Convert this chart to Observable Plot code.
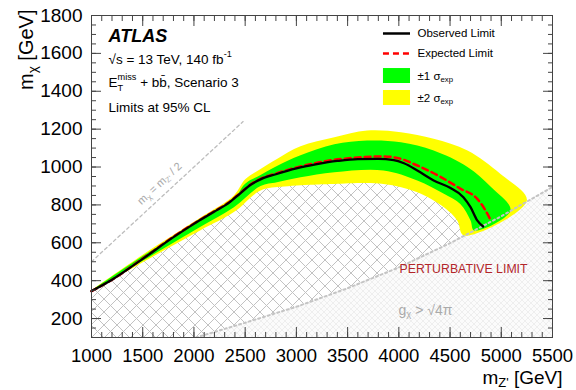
<!DOCTYPE html>
<html><head><meta charset="utf-8">
<script src="https://cdn.jsdelivr.net/npm/d3@7"></script>
<script src="https://cdn.jsdelivr.net/npm/@observablehq/plot@0.6"></script>
<style>body{margin:0;background:#fff;} svg{display:block}</style>
</head><body><div id="chart"></div>
<script>
// ---- axes ----
const xDomain = [1000, 5500];
const yDomain = [100, 1800];
const xMajor = [1000, 1500, 2000, 2500, 3000, 3500, 4000, 4500, 5000, 5500];
const yMajor = [200, 400, 600, 800, 1000, 1200, 1400, 1600, 1800];
const xMinor = d3.range(1000, 5501, 100);
const yMinor = d3.range(100, 1801, 50);

// ---- observed limit ----
const obsX = [1000,1200,1500,1800,2000,2200,2350,2450,2550,2650,2800,3000,3200,3400,3600,3800,3950,4050,4180,4340,4500,4630,4700,4765,4823];
const obsY = [345,405,515,630,700,765,815,860,905,935,962,993,1015,1032,1042,1043,1037,1020,982,929,890,841,788,718,686];

// ---- expected limit ----
const expX = [1000,1200,1500,1800,2000,2200,2350,2450,2550,2650,2800,3040,3370,3600,3850,4020,4180,4410,4600,4765,4846,4895];
const expY = [345,405,517,632,702,767,817,862,907,938,966,1003,1038,1050,1056,1043,1008,947,886,832,771,721];

// ---- +-1 sigma band ----
const s1UpX = [1000,1500,2060,2390,2500,2650,2810,3040,3370,3690,4020,4340,4670,4900,5090];
const s1UpY = [348,530,718,832,912,958,1005,1062,1120,1140,1131,1087,1000,894,771];
const s1LoX = [4735,4700,4600,4440,4180,3850,3370,3040,2810,2650,2390,2060,1500,1000];
const s1LoY = [665,718,805,859,929,982,973,946,920,900,788,683,505,342];

// ---- +-2 sigma band ----
const s2UpX = [1000,1500,2060,2390,2500,2650,2810,3040,3370,3690,4020,4340,4670,4990,5250];
const s2UpY = [350,537,732,850,935,990,1043,1110,1157,1193,1184,1149,1087,964,823];
const s2LoX = [4634,4570,4440,4180,3850,3370,3200,2880,2650,2390,2060,1500,1000];
const s2LoY = [639,718,788,867,911,911,908,897,876,762,665,497,340];

// ---- perturbative limit boundary ----
const pertX = [2020,2500,3000,3500,4000,4500,5000,5500];
const pertY = [100,178,262,360,470,598,740,895];

// ---- m_chi = m_Z'/2 reference ----
const refX = [1000, 2480];
const refY = [500, 1240];

// ---- legend ----
const legendLabels = ["Observed Limit", "Expected Limit", "±1 σ_{exp}", "±2 σ_{exp}"];
const legendY = [1705, 1600, 1480, 1364];
const legendX = [3850, 4114, 4182];
const legendBoxY = [[1441, 1520], [1325, 1404]];

// ---- annotations ----
const infoLines = ["√s = 13 TeV, 140 fb^{-1}", "E^{miss}_{T} + bb\u0304, Scenario 3", "Limits at 95% CL"];
const infoDy = [48, 71, 96];

const zip = (xs, ys) => xs.map((x, i) => ({x, y: ys[i]}));
const band = (ux, uy, lx, ly) => zip(ux, uy).concat(zip(lx, ly));
const FONT = "'Liberation Sans', Arial, Helvetica, sans-serif";
const AX = "#444";

const noText = () => "";
const plot = Plot.plot({
  width: 576, height: 390,
  marginLeft: 91, marginRight: 24, marginTop: 15, marginBottom: 53,
  x: {domain: xDomain, axis: null},
  y: {domain: yDomain, axis: null},
  style: {fontFamily: FONT, background: "#fff", color: "#000"},
  marks: [
    Plot.areaY(zip(obsX, obsY), {x: "x", y: "y", fill: "url(#hatchCoarse)", curve: "monotone-x", clip: true}),
    Plot.areaY(zip(pertX, pertY), {x: "x", y: "y", fill: "url(#hatchFine)", clip: true}),
    Plot.line(band(s2UpX, s2UpY, s2LoX, s2LoY), {x: "x", y: "y", fill: "#ffff00", stroke: "none", curve: "catmull-rom"}),
    Plot.line(band(s1UpX, s1UpY, s1LoX, s1LoY), {x: "x", y: "y", fill: "#00ff00", stroke: "none", curve: "catmull-rom"}),
    Plot.line(zip(pertX, pertY), {x: "x", y: "y", stroke: "#c4c4c4", strokeWidth: 2, strokeDasharray: "2,3", clip: true}),
    Plot.line(zip(refX, refY), {x: "x", y: "y", stroke: "#bdbdbd", strokeWidth: 1.3, strokeDasharray: "3,3"}),
    Plot.line(zip(expX, expY), {x: "x", y: "y", stroke: "#ff0000", strokeWidth: 2.5, strokeDasharray: "6,4", curve: "monotone-x"}),
    Plot.line(zip(obsX, obsY), {x: "x", y: "y", stroke: "#000", strokeWidth: 2.3, curve: "monotone-x"}),

    // annotations in plot
    Plot.text(["m_{χ} = m_{Z'} / 2"], {x: [1664], y: [913], rotate: -43, fill: "#aaa", fontSize: 11}),
    Plot.text(["PERTURBATIVE LIMIT"], {x: [4007], y: [438], textAnchor: "start", lineAnchor: "bottom", fill: "#b3262a", fontSize: 12.3}),
    Plot.text(["g_{χ} > √4π"], {x: [3997], y: [221], textAnchor: "start", lineAnchor: "bottom", fill: "#aaa", fontSize: 14}),

    // top-left info
    Plot.text(["ATLAS"], {frameAnchor: "top-left", dx: 17, dy: 26, textAnchor: "start", lineAnchor: "bottom", fontSize: 18, fontWeight: "bold", fontStyle: "italic"}),
    ...infoLines.map((t, i) => Plot.text([t], {frameAnchor: "top-left", dx: 17, dy: infoDy[i], textAnchor: "start", lineAnchor: "bottom", fontSize: 13.5})),

    // legend
    Plot.ruleY([legendY[0]], {x1: legendX[0], x2: legendX[1], stroke: "#000", strokeWidth: 2.5}),
    Plot.ruleY([legendY[1]], {x1: legendX[0], x2: legendX[1], stroke: "#ff0000", strokeWidth: 2.5, strokeDasharray: "6,4"}),
    Plot.rect([legendBoxY[0]], {x1: legendX[0], x2: legendX[1], y1: d => d[0], y2: d => d[1], fill: "#00ff00"}),
    Plot.rect([legendBoxY[1]], {x1: legendX[0], x2: legendX[1], y1: d => d[0], y2: d => d[1], fill: "#ffff00"}),
    Plot.text(legendLabels, {x: legendX[2], y: (d, i) => legendY[i], textAnchor: "start", fontSize: 11.5}),

    // frame and ticks
    Plot.frame({stroke: AX}),
    Plot.axisX(xMajor, {anchor: "bottom", tickSize: -10, tickFormat: noText, label: null, stroke: AX}),
    Plot.axisX(xMinor, {anchor: "bottom", tickSize: -5, tickFormat: noText, label: null, stroke: AX}),
    Plot.axisX(xMajor, {anchor: "top", tickSize: -10, tickFormat: noText, label: null, stroke: AX}),
    Plot.axisX(xMinor, {anchor: "top", tickSize: -5, tickFormat: noText, label: null, stroke: AX}),
    Plot.axisY(yMajor, {anchor: "left", tickSize: -10, tickFormat: noText, label: null, stroke: AX}),
    Plot.axisY(yMinor, {anchor: "left", tickSize: -5, tickFormat: noText, label: null, stroke: AX}),
    Plot.axisY(yMajor, {anchor: "right", tickSize: -10, tickFormat: noText, label: null, stroke: AX}),
    Plot.axisY(yMinor, {anchor: "right", tickSize: -5, tickFormat: noText, label: null, stroke: AX}),
    Plot.axisX(xMajor, {anchor: "bottom", tickSize: 0, tickPadding: 11, fontSize: 18.5, tickFormat: d => String(d), label: null, fill: "#000"}),
    Plot.axisY(yMajor, {anchor: "left", tickSize: 0, tickPadding: 9, fontSize: 19, tickFormat: d => String(d), label: null, fill: "#000"}),

    // axis titles
    Plot.text(["m_{Z'} [GeV]"], {frameAnchor: "bottom-right", dx: 10, dy: 46, textAnchor: "end", lineAnchor: "bottom", fontSize: 19}),
    Plot.text(["m_{χ} [GeV]"], {frameAnchor: "top-left", dx: -59, dy: -6, rotate: -90, textAnchor: "end", lineAnchor: "bottom", fontSize: 20})
  ]
});

d3.select(plot).insert("defs", ":first-child").html(`
  <pattern id="hatchCoarse" patternUnits="userSpaceOnUse" width="13" height="13">
    <path d="M0,0L13,13M13,0L0,13" stroke="#c2c2c2" stroke-width="1" fill="none"/>
  </pattern>
  <pattern id="hatchFine" patternUnits="userSpaceOnUse" width="6" height="6">
    <rect width="6" height="6" fill="#fbfbfb"/>
    <path d="M0,0L6,6M6,0L0,6" stroke="#e6e6e6" stroke-width="0.6" fill="none"/>
  </pattern>`);

document.getElementById("chart").appendChild(plot);

// rich text: _{sub}, ^{sup}; a sup immediately followed by a sub is stacked
function richify(el) {
  const s = el.textContent;
  if (!/[_^]\{/.test(s)) return;
  const fs = parseFloat(getComputedStyle(el).fontSize);
  while (el.firstChild) el.removeChild(el.firstChild);
  const ns = "http://www.w3.org/2000/svg";
  const re = /([_^])\{([^}]*)\}/g;
  let last = 0, shift = 0, m, prev = null, prevEnd = -1, pendingDx = 0;
  const add = (txt, opts = {}) => {
    const t = document.createElementNS(ns, "tspan");
    t.textContent = txt;
    if (opts.dy) t.setAttribute("dy", opts.dy);
    if (opts.dx) t.setAttribute("dx", opts.dx);
    if (opts.small) t.setAttribute("font-size", (fs * 0.68).toFixed(2));
    el.appendChild(t);
    return t;
  };
  while ((m = re.exec(s))) {
    let stacked = false;
    if (m.index > last) { add(s.slice(last, m.index), {dy: -shift, dx: pendingDx}); shift = 0; pendingDx = 0; }
    else if (prev && prevEnd === m.index) stacked = true;
    const target = m[1] === "^" ? -0.5 * fs : (stacked ? 0.36 : 0.2) * fs;
    const opts = {dy: target - shift, small: true};
    let prevW = 0;
    if (stacked) { prevW = prev.getComputedTextLength(); opts.dx = -prevW; }
    prev = add(m[2], opts);
    if (stacked) { const w = prev.getComputedTextLength(); pendingDx = Math.max(0, prevW - w); }
    prevEnd = re.lastIndex;
    shift = target;
    last = re.lastIndex;
  }
  if (last < s.length) add(s.slice(last), {dy: -shift, dx: pendingDx});
}
plot.querySelectorAll("text").forEach(richify);
</script>
</body></html>
